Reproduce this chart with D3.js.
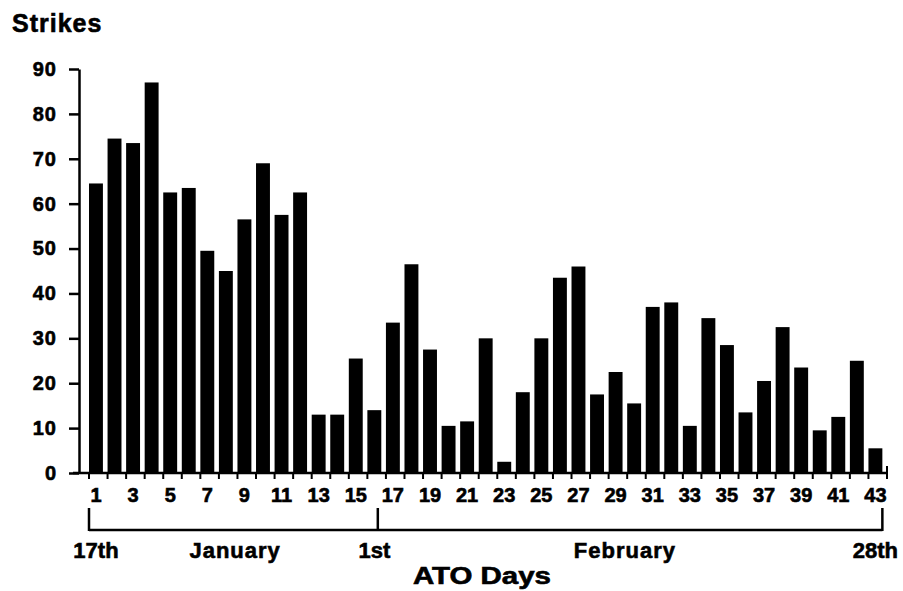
<!DOCTYPE html>
<html>
<head>
<meta charset="utf-8">
<script src="https://cdn.jsdelivr.net/npm/d3@7"></script>
<style>
    body { margin: 0; background: #fff; }
    text { font-family: "Liberation Sans", Arial, sans-serif; font-weight: bold; fill: #000; stroke: #000; stroke-width: 0.6px; }
</style>
</head>
<body>
<div id="chart"></div>
<script>
// ATO days 1..43 and strikes per day
const days = d3.range(1, 44);
const strikes = [64.5, 74.5, 73.5, 87, 62.5, 63.5, 49.5, 45, 56.5, 69,
                 57.5, 62.5, 13, 13, 25.5, 14, 33.5, 46.5, 27.5, 10.5,
                 11.5, 30, 2.5, 18, 30, 43.5, 46, 17.5, 22.5, 15.5,
                 37, 38, 10.5, 34.5, 28.5, 13.5, 20.5, 32.5, 23.5, 9.5,
                 12.5, 25, 5.5];
const yTicks = [0, 10, 20, 30, 40, 50, 60, 70, 80, 90];
const xTickLabels = days.filter(d => d % 2 === 1);
const dateMarks = [{day: 1, label: "17th"}, {day: 16, label: "1st"}, {day: 43, label: "28th"}];
const monthNames = [{label: "January", from: 1, to: 16}, {label: "February", from: 16, to: 43}];

const width = 903, height = 591;
const axisX = 79, baseY = 473;

const svg = d3.select("#chart").append("svg")
    .attr("width", width)
    .attr("height", height);

const x = d3.scaleBand()
    .domain(days)
    .range([89, 887])
    .paddingInner(0.25)
    .paddingOuter(0.125)
    .align(0);
const y = d3.scaleLinear()
    .domain([0, 90])
    .range([baseY, 69]);
const bw = x.bandwidth();

// bars
svg.append("g")
    .selectAll("rect")
    .data(days)
    .join("rect")
    .attr("x", d => x(d))
    .attr("y", (d, i) => y(strikes[i]))
    .attr("width", bw)
    .attr("height", (d, i) => y(0) - y(strikes[i]))
    .attr("fill", "#000");

// y axis
const yAxis = svg.append("g")
    .attr("transform", `translate(${axisX},0)`)
    .call(d3.axisLeft(y).tickValues(yTicks).tickSize(10).tickSizeOuter(0).tickPadding(12));
yAxis.select(".domain").attr("stroke-width", 2.5);
yAxis.selectAll(".tick line").attr("stroke-width", 2.5);
yAxis.selectAll(".tick text")
    .style("font-size", "20px")
    .style("font-family", "'Liberation Sans', Arial, sans-serif")
    .style("font-weight", "bold")
    .attr("letter-spacing", 1);

// x axis line and ticks
const xEnd = x.range()[1];
svg.append("line")
    .attr("x1", 73).attr("x2", xEnd)
    .attr("y1", y(0)).attr("y2", y(0))
    .attr("stroke", "#000").attr("stroke-width", 2.5);
svg.append("g")
    .selectAll("line")
    .data(days)
    .join("line")
    .attr("x1", d => x(d)).attr("x2", d => x(d))
    .attr("y1", y(0)).attr("y2", y(0) + 6)
    .attr("stroke", "#000").attr("stroke-width", 2);
svg.append("line")
    .attr("x1", xEnd).attr("x2", xEnd)
    .attr("y1", y(0) - 7).attr("y2", y(0) + 6)
    .attr("stroke", "#000").attr("stroke-width", 2);

svg.append("g")
    .selectAll("text")
    .data(xTickLabels)
    .join("text")
    .attr("x", d => x(d) + bw / 2)
    .attr("y", 502)
    .attr("text-anchor", "middle")
    .style("font-size", "20px")
    .text(d => d);

// date bracket
const markX = d => d === 1 ? x(d) : d === 43 ? x(d) + bw : x(d) + bw * 0.75;
svg.append("line")
    .attr("x1", markX(1)).attr("x2", markX(43))
    .attr("y1", 530).attr("y2", 530)
    .attr("stroke", "#000").attr("stroke-width", 2.5);
svg.append("g")
    .selectAll("line")
    .data(dateMarks)
    .join("line")
    .attr("x1", d => markX(d.day)).attr("x2", d => markX(d.day))
    .attr("y1", 508).attr("y2", 531)
    .attr("stroke", "#000").attr("stroke-width", 2.5);

svg.append("g")
    .selectAll("text")
    .data(dateMarks)
    .join("text")
    .attr("x", d => x(d.day) + bw / 2)
    .attr("y", 558)
    .attr("text-anchor", "middle")
    .style("font-size", "22px")
    .text(d => d.label);

svg.append("g")
    .selectAll("text")
    .data(monthNames)
    .join("text")
    .attr("x", d => (x(d.from) + x(d.to) + bw) / 2)
    .attr("y", 558)
    .attr("text-anchor", "middle")
    .style("font-size", "22px")
    .attr("letter-spacing", 1)
    .text(d => d.label);

// titles
svg.append("text")
    .attr("x", 12)
    .attr("y", 32)
    .style("font-size", "25px")
    .attr("letter-spacing", 1)
    .text("Strikes");

svg.append("text")
    .attr("x", 482)
    .attr("y", 584)
    .attr("text-anchor", "middle")
    .style("font-size", "23px")
    .attr("textLength", 138)
    .attr("lengthAdjust", "spacingAndGlyphs")
    .text("ATO Days");
</script>
</body>
</html>
